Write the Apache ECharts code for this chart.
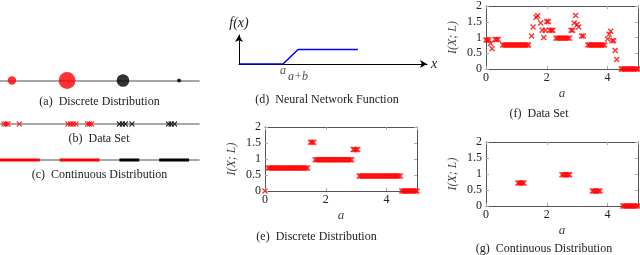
<!DOCTYPE html>
<html><head><meta charset="utf-8">
<script src="https://cdn.jsdelivr.net/npm/echarts@6/dist/echarts.min.js"></script>
<style>html,body{margin:0;padding:0;background:#fff}#c{width:640px;height:255px}</style>
</head><body><div id="c"></div>
<script>
// ---------- data ----------
// (a) discrete distribution: positions, probabilities, class (0 red, 1 black)
const discretePos = [0.6, 3.37, 6.18, 9.0];
const discreteProb = [0.2, 0.4, 0.3, 0.1];
const discreteClass = [0, 0, 1, 1];
// (b) data set samples
const redSamples = [0.2, 0.3, 0.4, 0.97, 3.42, 3.55, 3.68, 3.82, 4.4, 4.5, 4.6];
const blackSamples = [6.0, 6.15, 6.3, 6.63, 8.47, 8.6, 8.77];
// (c) continuous distribution support intervals
const redSegments = [[0, 2], [3, 5]];
const blackSegments = [[6, 7], [8, 9.5]];
// (d) neural network function f(x)
const nnX = [0, 1, 1.34, 2.7];
const nnY = [0, 0, 1, 1];
const nnTickPos = [1, 1.34];
const nnTickText = ['a', 'a+b'];
// (e),(f),(g) I(X;L) versus a
const aSamples = [0,0.05,0.1,0.15,0.2,0.25,0.3,0.35,0.4,0.45,
 0.5,0.55,0.6,0.65,0.7,0.75,0.8,0.85,0.9,0.95,
 1,1.05,1.1,1.15,1.2,1.25,1.3,1.35,1.4,1.45,
 1.5,1.55,1.6,1.65,1.7,1.75,1.8,1.85,1.9,1.95,
 2,2.05,2.1,2.15,2.2,2.25,2.3,2.35,2.4,2.45,
 2.5,2.55,2.6,2.65,2.7,2.75,2.8,2.85,2.9,2.95,
 3,3.05,3.1,3.15,3.2,3.25,3.3,3.35,3.4,3.45,
 3.5,3.55,3.6,3.65,3.7,3.75,3.8,3.85,3.9,3.95,
 4,4.05,4.1,4.15,4.2,4.25,4.3,4.35,4.4,4.45,
 4.5,4.55,4.6,4.65,4.7,4.75,4.8,4.85,4.9,4.95,5];
const N = null;
const eValues = [0,N,0.72,0.72,0.72,0.72,0.72,0.72,0.72,0.72,
 0.72,0.72,0.72,0.72,0.72,0.72,0.72,0.72,0.72,0.72,
 0.72,0.72,0.72,0.72,0.72,0.72,0.72,0.72,0.72,N,
 1.52,1.52,1.52,0.98,0.98,0.98,0.98,0.98,0.98,0.98,
 0.98,0.98,0.98,0.98,0.98,0.98,0.98,0.98,0.98,0.98,
 0.98,0.98,0.98,0.98,0.98,0.98,0.98,0.98,1.3,1.3,
 1.3,1.3,0.47,0.47,0.47,0.47,0.47,0.47,0.47,0.47,
 0.47,0.47,0.47,0.47,0.47,0.47,0.47,0.47,0.47,0.47,
 0.47,0.47,0.47,0.47,0.47,0.47,0.47,0.47,0.47,0.47,
 0,0,0,0,0,0,0,0,0,0,0];
const fValues = [0.92,0.92,0.92,0.81,0.64,N,0.94,0.94,0.94,N,
 N,0.76,0.76,0.76,0.76,0.76,0.76,0.76,0.76,0.76,
 0.76,0.76,0.76,0.76,0.76,0.76,0.76,0.76,0.76,N,
 1.05,1.33,N,1.64,1.69,N,1.46,1.23,1.0,1.23,
 1.51,1.51,1.23,1.23,1.23,N,0.98,0.98,0.98,0.98,
 0.98,0.98,0.98,0.98,0.98,0.98,1.23,1.23,1.46,1.7,
 1.41,1.33,N,1.05,1.05,N,N,0.76,0.76,0.76,
 0.76,0.76,0.76,0.76,0.76,0.76,0.76,0.76,0.76,N,
 0.95,1.1,1.2,0.9,0.9,0.59,0.3,N,N,0,
 0,0,0,0,0,0,0,0,0,0,0];
const gValues = [N,N,N,N,N,N,N,N,N,N,
 N,N,N,N,N,N,N,N,N,N,
 N,0.72,0.72,0.72,0.72,0.72,N,N,N,N,
 N,N,N,N,N,N,N,N,N,N,
 N,N,N,N,N,N,N,N,N,N,
 0.98,0.98,0.98,0.98,0.98,0.98,N,N,N,N,
 N,N,N,N,N,N,N,N,N,N,
 0.47,0.47,0.47,0.47,0.47,0.47,N,N,N,N,
 N,N,N,N,N,N,N,N,N,N,
 0,0,0,0,0,0,0,0,0,0,0];
const yName = 'I(X; L)';
const xName = 'a';
const captions = ['(a)  Discrete Distribution', '(b)  Data Set', '(c)  Continuous Distribution',
  '(d)  Neural Network Function', '(e)  Discrete Distribution', '(f)  Data Set', '(g)  Continuous Distribution'];

// ---------- styling ----------
const SERIF = 'Liberation Serif';
const RED = '#ff0000';
const CROSS = 'path://M0,0L10,10M10,0L0,10';
const TXT = '#222';

const grids = [
  {left: 0, top: 70, width: 199, height: 21},
  {left: 0, top: 114, width: 199, height: 20},
  {left: 0, top: 150, width: 199, height: 20},
  {left: 239, top: 35, width: 188, height: 29},
  {left: 265, top: 127, width: 152, height: 64},
  {left: 486, top: 4, width: 152, height: 65},
  {left: 486, top: 142, width: 152, height: 64}
];

const xAxes = [], yAxes = [];
for (let i = 0; i < 3; i++) {
  xAxes.push({gridIndex: i, type: 'value', min: 0, max: 10,
    axisLine: {show: true, onZero: true, lineStyle: {color: '#8a8a8a', width: 1.6}},
    axisTick: {show: false}, axisLabel: {show: false}, splitLine: {show: false}});
  yAxes.push({gridIndex: i, type: 'value', min: -1, max: 1,
    axisLine: {show: false}, axisTick: {show: false}, axisLabel: {show: false}, splitLine: {show: false}});
}
const nameStyle = {fontFamily: SERIF, fontStyle: 'italic', fontSize: 14, color: TXT};
xAxes.push({gridIndex: 3, type: 'value', min: 0, max: 4.27,
  axisLine: {show: true, onZero: false, symbol: ['none', 'arrow'], symbolSize: [6, 7], lineStyle: {color: '#000', width: 1}},
  axisTick: {show: false}, axisLabel: {show: false}, splitLine: {show: false},
  name: 'x', nameLocation: 'end', nameGap: 4, nameTextStyle: nameStyle});
yAxes.push({gridIndex: 3, type: 'value', min: 0, max: 2,
  axisLine: {show: true, onZero: false, symbol: ['none', 'arrow'], symbolSize: [6, 7], lineStyle: {color: '#000', width: 1}},
  axisTick: {show: false}, axisLabel: {show: false}, splitLine: {show: false},
  name: 'f(x)', nameLocation: 'end', nameGap: 5, nameTextStyle: nameStyle});

const tickStyle = {show: true, inside: true, length: 3, lineStyle: {color: '#aaa', width: 1}};
const frameLine = {show: true, onZero: false, lineStyle: {color: '#555', width: 1}};
const labStyle = {fontFamily: SERIF, fontSize: 12, color: TXT};
for (let g = 4; g <= 6; g++) {
  xAxes.push({gridIndex: g, type: 'value', min: 0, max: 5, interval: 2, position: 'bottom',
    axisLine: frameLine, axisTick: tickStyle,
    axisLabel: Object.assign({margin: 3, showMaxLabel: false}, labStyle),
    splitLine: {show: false},
    name: xName, nameLocation: 'middle', nameGap: 18,
    nameTextStyle: {fontFamily: SERIF, fontStyle: 'italic', fontSize: 13, color: '#444'}});
  yAxes.push({gridIndex: g, type: 'value', min: 0, max: 2, interval: 0.5, position: 'left',
    axisLine: frameLine, axisTick: tickStyle,
    axisLabel: Object.assign({margin: 4}, labStyle),
    splitLine: {show: false},
    name: yName, nameLocation: 'middle', nameGap: 27,
    nameTextStyle: {fontFamily: SERIF, fontStyle: 'italic', fontSize: 12, color: '#444'}});
}
for (let g = 4; g <= 6; g++) {
  xAxes.push({gridIndex: g, type: 'value', min: 0, max: 5, interval: 2, position: 'top',
    axisLine: frameLine, axisTick: tickStyle, axisLabel: {show: false}, splitLine: {show: false}});
  yAxes.push({gridIndex: g, type: 'value', min: 0, max: 2, interval: 0.5, position: 'right',
    axisLine: frameLine, axisTick: tickStyle, axisLabel: {show: false}, splitLine: {show: false}});
}

const series = [];
// (a)
series.push({type: 'scatter', xAxisIndex: 0, yAxisIndex: 0, symbol: 'circle',
  data: discretePos.map((x, i) => ({value: [x, 0], symbolSize: discreteProb[i] * 42,
    itemStyle: {color: discreteClass[i] ? '#000' : RED}}))});
// (b)
const crossSeries = (xi, yi, data, color, size, bw) => ({type: 'scatter', xAxisIndex: xi, yAxisIndex: yi,
  symbol: CROSS, symbolSize: size, clip: false, data: data,
  itemStyle: {color: 'transparent', borderColor: color, borderWidth: bw}});
series.push(crossSeries(1, 1, redSamples.map(x => [x, 0]), RED, 5, 1.1));
series.push(crossSeries(1, 1, blackSamples.map(x => [x, 0]), '#000', 5, 1.1));
// (c)
redSegments.concat(blackSegments).forEach((s, k) => {
  series.push({type: 'line', xAxisIndex: 2, yAxisIndex: 2, symbol: 'none',
    lineStyle: {color: k < redSegments.length ? RED : '#000', width: 3, cap: 'butt'},
    data: [[s[0], 0], [s[1], 0]]});
});
// (d)
series.push({type: 'line', xAxisIndex: 3, yAxisIndex: 3, symbol: 'none',
  lineStyle: {color: '#0000ff', width: 1.5}, data: nnX.map((x, i) => [x, nnY[i]])});
series.push({type: 'scatter', xAxisIndex: 3, yAxisIndex: 3, symbolSize: 0, clip: false,
  data: nnTickPos.map((x, i) => ({value: [x, 0],
    label: {show: true, position: 'bottom', distance: i === 0 ? 1 : 7, formatter: nnTickText[i],
      fontFamily: SERIF, fontStyle: 'italic', fontSize: 12, color: TXT}}))});
// (e),(f),(g)
const pts = vals => aSamples.map((a, i) => vals[i] === null ? null : [a, vals[i]]).filter(p => p);
series.push(crossSeries(4, 4, pts(eValues), RED, 5, 1.4));
series.push(crossSeries(5, 5, pts(fValues), RED, 5, 1.4));
series.push(crossSeries(6, 6, pts(gValues), RED, 5, 1.4));

const capPos = [[99.5, 96], [99, 133], [99.5, 169], [327, 94], [316.5, 231], [539, 108], [544, 243]];
const titles = captions.map((t, i) => ({text: t, left: capPos[i][0], top: capPos[i][1], textAlign: 'center', padding: 0,
  textStyle: {fontFamily: SERIF, fontSize: 12, fontWeight: 'normal', color: TXT}}));

const chart = echarts.init(document.getElementById('c'), null, {renderer: 'canvas'});
chart.setOption({animation: false, backgroundColor: '#fff', title: titles, grid: grids,
  xAxis: xAxes, yAxis: yAxes, series: series});
</script></body></html>
